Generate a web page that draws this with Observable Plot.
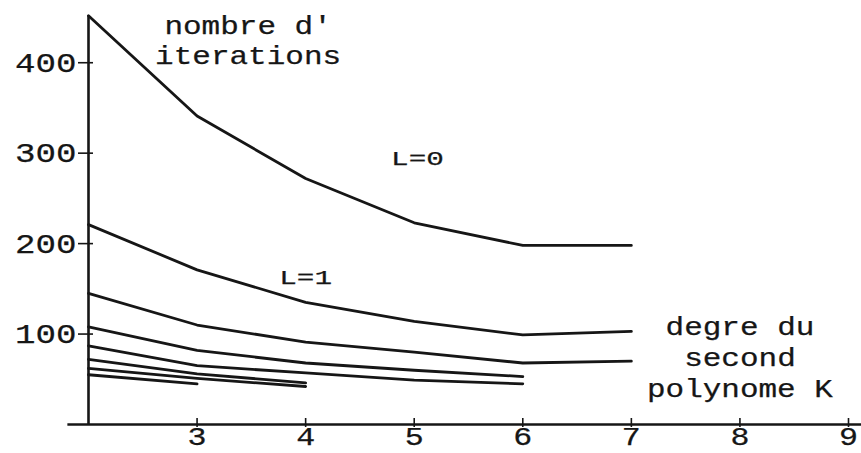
<!DOCTYPE html>
<html>
<head>
<meta charset="utf-8">
<script src="https://cdn.jsdelivr.net/npm/d3@7"></script>
<script src="https://cdn.jsdelivr.net/npm/@observablehq/plot@0.6"></script>
<style>
  html, body { margin: 0; padding: 0; background: #fff; }
  #chart svg { display: block; }
</style>
</head>
<body>
<div id="chart"></div>
<script>
// Degree of the second polynomial K (x values)
const K = [2, 3, 4, 5, 6, 7];
// Number of iterations per curve (top to bottom)
const L0 = [452, 341, 272, 223, 198, 198];
const L1 = [221, 171, 135, 114, 99, 103];
const L2 = [145, 110, 91, 80, 68, 70];
const L3 = [108, 82, 68, 60, 53];
const L4 = [87, 65, 57, 49, 45];
const L5 = [72, 56, 46];
const L6 = [62, 51, 42];
const L7 = [55, 45];
const series = [L0, L1, L2, L3, L4, L5, L6, L7];

const xTicks = [3, 4, 5, 6, 7, 8, 9];
const yTicks = [100, 200, 300, 400];
const xDomain = [2, 9];
const yDomain = [0, 450];
const xAxisExtent = [1.81, 9.12];
const yAxisExtent = [0, 452];

const yTitleLines = ["nombre d'", "iterations"];
const xTitleLines = ["degre du", "second", "polynome K"];
const curveLabels = ["L=0", "L=1"];

const rows = series.flatMap((vals, s) => vals.map((v, j) => ({k: K[j], v, s})));

const ink = "#161616";
const font = "Liberation Mono, Courier New, monospace";

const textStyle = {fill: ink, stroke: ink, strokeWidth: 0.25, textAnchor: "middle"};

const chart = Plot.plot({
  width: 861,
  height: 453,
  marginLeft: 88,
  marginRight: 13,
  marginTop: 17,
  marginBottom: 29,
  style: {fontFamily: font, color: ink, background: "#fff"},
  x: {domain: xDomain},
  y: {domain: yDomain},
  marks: [
    Plot.ruleY([0], {x1: xAxisExtent[0], x2: xAxisExtent[1], stroke: ink, strokeWidth: 2.6}),
    Plot.ruleX([xDomain[0]], {y1: yAxisExtent[0], y2: yAxisExtent[1], stroke: ink, strokeWidth: 2.6}),
    Plot.axisY({ticks: yTicks, tickSize: 15, dx: 5, tickPadding: 2, fontSize: 28, strokeWidth: 1.6, tickFormat: d => String(d), label: null, className: "ay"}),
    Plot.axisX({ticks: xTicks, tickSize: 9, dy: -6, tickPadding: 0, fontSize: 25, strokeWidth: 1.6, tickFormat: d => String(d), label: null, className: "ax"}),
    Plot.line(rows, {x: "k", y: "v", z: "s", stroke: ink, strokeWidth: 2.8, curve: "linear"}),
    Plot.text([curveLabels[0]], {x: 5.03, y: 294, text: d => d, fontSize: 21, ...textStyle, className: "lab"}),
    Plot.text([curveLabels[1]], {x: 4.0, y: 163, text: d => d, fontSize: 21, ...textStyle, className: "lab"}),
    ...yTitleLines.map((t, i) => Plot.text([t], {x: 3.47, y: 424, dy: (i - 0.5) * 30, text: d => d, fontSize: 25, ...textStyle, className: "ttl"})),
    ...xTitleLines.map((t, i) => Plot.text([t], {x: 8.0, y: 73, dy: (i - 1) * 31, text: d => d, fontSize: 25, ...textStyle, className: "ttl"}))
  ]
});

// Stretch glyphs horizontally to match the wide typewriter lettering
function stretch(selector, pitch) {
  d3.select(chart).selectAll(selector + " text").each(function() {
    const n = this.textContent.length;
    if (!n) return;
    this.setAttribute("textLength", (n * pitch).toFixed(1));
    this.setAttribute("lengthAdjust", "spacingAndGlyphs");
  });
}
stretch(".ay", 20.5);
stretch(".ax", 19);
stretch(".ttl", 18.6);
stretch(".lab", 17.6);
d3.select(chart).selectAll(".ay text, .ax text").attr("stroke", ink).attr("stroke-width", 0.25);

document.getElementById("chart").appendChild(chart);
</script>
</body>
</html>
